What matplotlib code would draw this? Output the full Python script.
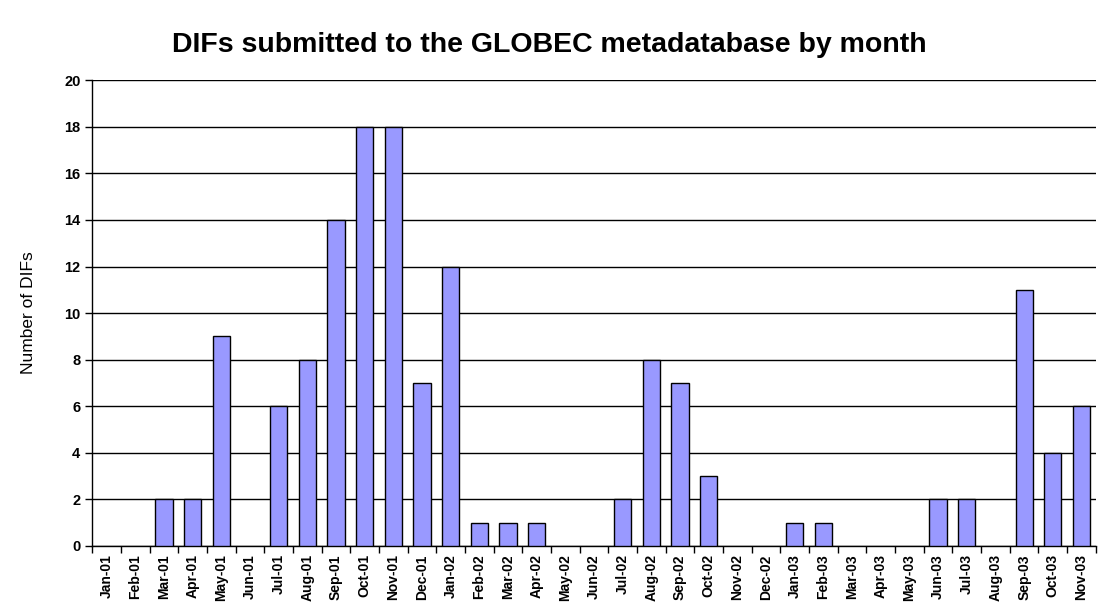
import numpy as np
import matplotlib.pyplot as plt

plt.rcParams['font.family'] = ['Liberation Sans', 'DejaVu Sans']

months = ['Jan-01', 'Feb-01', 'Mar-01', 'Apr-01', 'May-01', 'Jun-01', 'Jul-01',
          'Aug-01', 'Sep-01', 'Oct-01', 'Nov-01', 'Dec-01', 'Jan-02', 'Feb-02',
          'Mar-02', 'Apr-02', 'May-02', 'Jun-02', 'Jul-02', 'Aug-02', 'Sep-02',
          'Oct-02', 'Nov-02', 'Dec-02', 'Jan-03', 'Feb-03', 'Mar-03', 'Apr-03',
          'May-03', 'Jun-03', 'Jul-03', 'Aug-03', 'Sep-03', 'Oct-03', 'Nov-03']
counts = [0, 0, 2, 2, 9, 0, 6, 8, 14, 18, 18, 7, 12, 1, 1, 1, 0, 0, 2, 8, 7,
          3, 0, 0, 1, 1, 0, 0, 0, 2, 2, 0, 11, 4, 6]

fig = plt.figure(figsize=(10.98, 6.08), dpi=100)
ax = fig.add_axes([0.084, 0.102, 0.914, 0.766])

x = np.arange(len(months))
ax.set_axisbelow(True)
ax.yaxis.grid(True, color='black', lw=1)
bars = ax.bar(x, counts, width=0.6, color='#9999FF', edgecolor='black', lw=1, zorder=3)
# zero months draw nothing in the original
for b, c in zip(bars, counts):
    if c == 0:
        b.set_visible(False)

ax.set_xlim(-0.5, len(months) - 0.5)
ax.set_ylim(0, 20)
ax.set_yticks(range(0, 21, 2))
ax.set_yticklabels([str(v) for v in range(0, 21, 2)], fontsize=10.5, fontweight='bold')
ax.set_xticks(x)
ax.set_xticklabels(months, rotation=90, fontsize=10, fontweight='bold')
ax.tick_params(axis='x', which='major', length=0, pad=6)
ax.set_xticks(np.arange(-0.5, len(months), 1), minor=True)
ax.tick_params(axis='x', which='minor', length=5, width=1, direction='out')
ax.tick_params(axis='y', length=5, width=1, direction='out')

for s in ['top', 'right']:
    ax.spines[s].set_visible(False)
ax.spines['left'].set_linewidth(1)
ax.spines['bottom'].set_linewidth(1)

ax.set_ylabel('Number of DIFs', fontsize=12.5, labelpad=20)
fig.suptitle('DIFs submitted to the GLOBEC metadatabase by month',
             fontsize=20.5, fontweight='bold', y=0.948)

plt.savefig('out.png', dpi=100)
plt.close()
